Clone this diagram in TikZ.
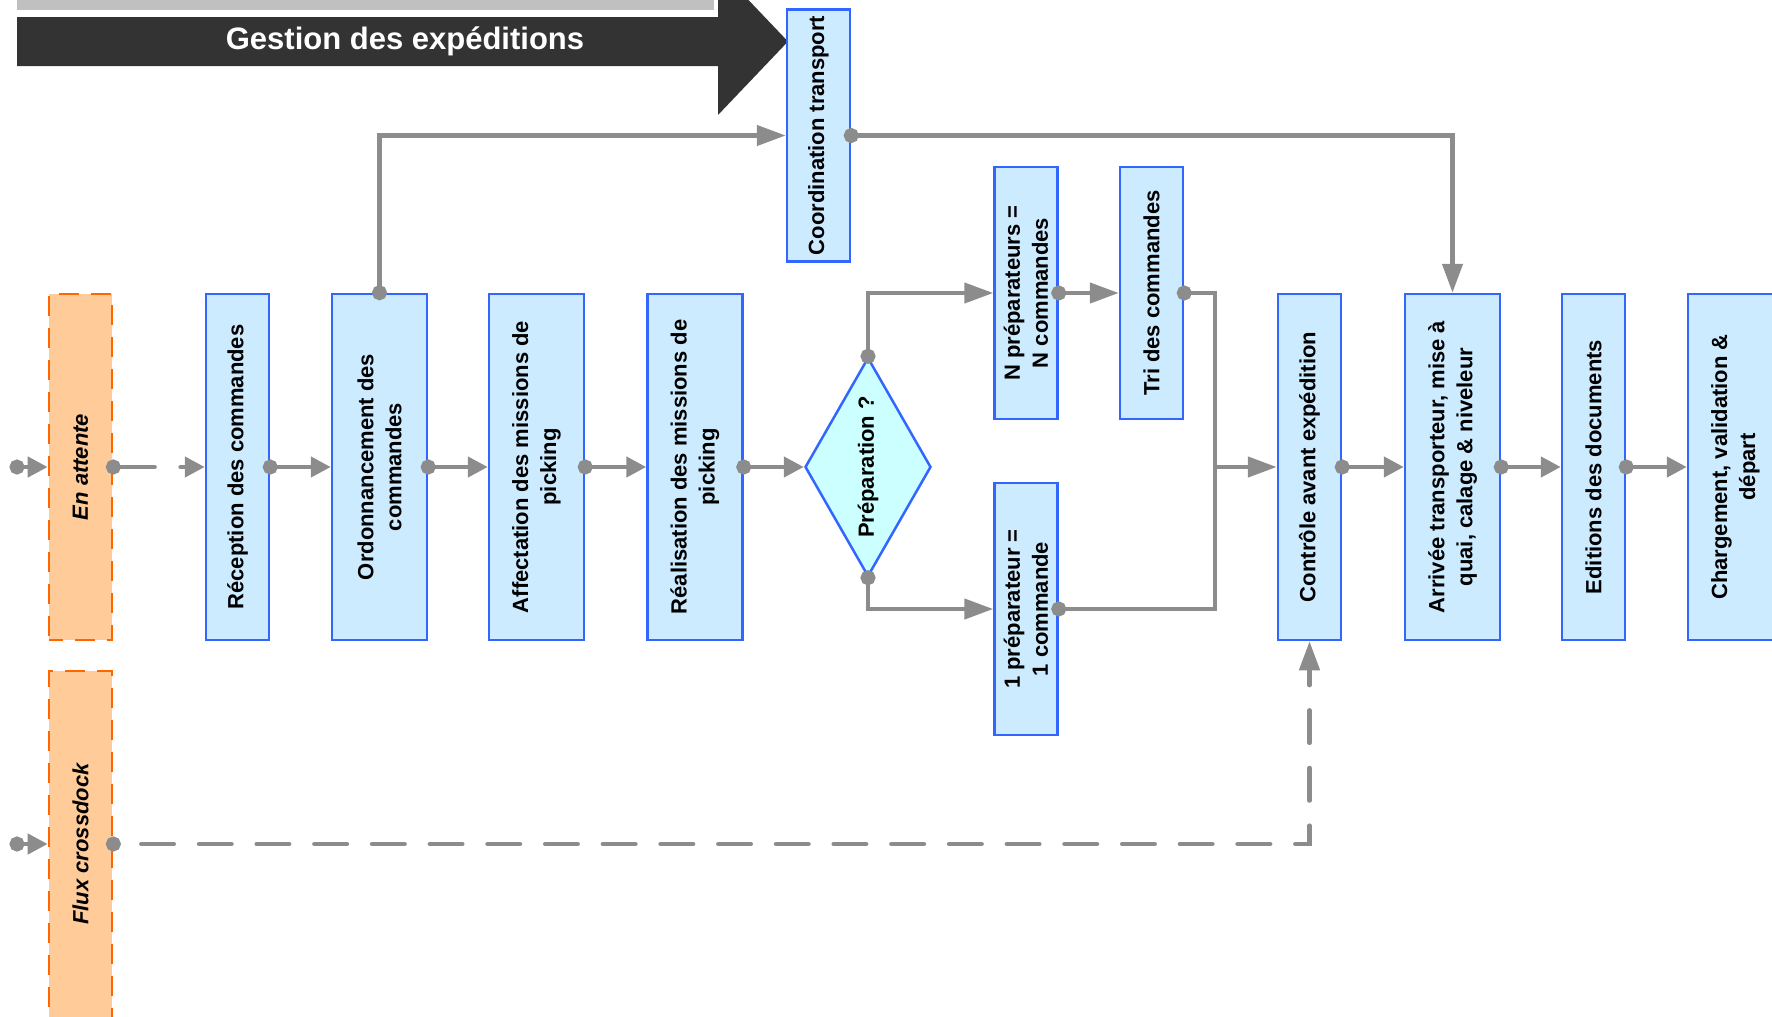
\documentclass[tikz,border=0pt]{standalone}
\usepackage{fontspec}
\setmainfont{Liberation Sans}
\usetikzlibrary{shapes.geometric,arrows.meta}

\definecolor{boxfill}{HTML}{CCEBFF}
\definecolor{boxline}{HTML}{3366FF}
\definecolor{decfill}{HTML}{CCFFFF}
\definecolor{waitfill}{HTML}{FFCC99}
\definecolor{waitline}{HTML}{FF6600}
\definecolor{flow}{HTML}{8C8C8C}
\definecolor{banner}{HTML}{333333}
\definecolor{bar}{HTML}{C0C0C0}

\tikzset{
  stepbox/.style={rectangle, draw=boxline, fill=boxfill, line width=2.5pt,
    inner sep=0pt, minimum height=346pt},
  narrow/.style={stepbox, minimum width=63pt},
  wide/.style={stepbox, minimum width=95pt},
  shortbox/.style={stepbox, minimum width=63pt, minimum height=252pt},
  waitbox/.style={rectangle, draw=waitline, fill=waitfill, line width=2.7pt,
    dash pattern=on 20pt off 12pt, dash phase=6pt, inner sep=0pt,
    minimum width=63pt, minimum height=346pt},
  decision/.style={diamond, draw=boxline, fill=decfill, line width=2.5pt,
    inner sep=0pt, minimum width=126pt, minimum height=219pt},
  lbl/.style={rotate=90, align=center, inner sep=0pt,
    font=\fontsize{22}{28}\selectfont\bfseries},
  wlbl/.style={lbl, font=\fontsize{22}{28}\selectfont\bfseries\itshape},
  conn/.style={draw=flow, line width=4.5pt},
  flowline/.style={conn, shorten <=-7.5pt,
    {Circle[length=15pt]}-{Triangle[length=20pt,width=20pt]}},
  longflow/.style={conn, shorten <=-7.5pt,
    {Circle[length=15pt]}-{Triangle[length=29pt,width=20pt]}},
  flowstub/.style={conn, shorten <=-7.5pt, {Circle[length=15pt]}-},
  flowhead/.style={conn, -{Triangle[length=29pt,width=20pt]}},
  dashedflow/.style={flowline, line cap=round, dash pattern=on 36pt off 26pt},
  crossflow/.style={longflow, line cap=round, dash pattern=on 32.5pt off 25.2pt, dash phase=35pt},
}

\begin{document}
\begin{tikzpicture}[x=1pt, y=-1pt]
\useasboundingbox (0,0) rectangle (1772,1017);

% banner
\fill[bar] (17,0) rectangle (714,10);
\fill[banner] (17,17) -- (718,17) -- (718,-32) -- (788,41.5) -- (718,115)
  -- (718,66) -- (17,66) -- cycle;
\node[text=white, font=\fontsize{31}{36}\selectfont\bfseries] (title) at (405,41.5)
  {Gestion des expéditions};

% waiting states
\node[waitbox] (att) at (80.5,467) {};
\node[wlbl] (attt) at (att.center) {En attente};
\node[waitbox, minimum height=352pt] (flx) at (80.5,847) {};
\node[wlbl] (flxt) at (80.5,844) {Flux crossdock};

% process steps
\node[narrow] (rec) at (237.5,467) {};
\node[lbl] (rect) at (rec.center) {Réception des commandes};
\node[wide] (ord) at (379.5,467) {};
\node[lbl] (ordt) at (ord.center) {Ordonnancement des\\commandes};
\node[wide] (aff) at (536.5,467) {};
\node[lbl] (afft) at (aff.center) {Affectation des missions de\\picking};
\node[wide] (rea) at (695,467) {};
\node[lbl] (reat) at (rea.center) {Réalisation des missions de\\picking};

\node[decision] (prep) at (868,467) {};
\node[lbl] (prept) at (prep.center) {Préparation ?};

\node[shortbox] (npr) at (1026,293) {};
\node[lbl] (nprt) at (npr.center) {N préparateurs =\\N commandes};
\node[shortbox] (tri) at (1151.5,293) {};
\node[lbl] (trit) at (tri.center) {Tri des commandes};
\node[shortbox] (upr) at (1026,609) {};
\node[lbl] (uprt) at (upr.center) {1 préparateur =\\1 commande};

\node[narrow] (ctl) at (1309.5,467) {};
\node[lbl] (ctlt) at (ctl.center) {Contrôle avant expédition};
\node[wide] (arr) at (1452.5,467) {};
\node[lbl] (arrt) at (arr.center) {Arrivée transporteur, mise à\\quai, calage \& niveleur};
\node[narrow] (edi) at (1593.5,467) {};
\node[lbl] (edit) at (edi.center) {Editions des documents};
\node[wide] (chg) at (1735.5,467) {};
\node[lbl] (chgt) at (chg.center) {Chargement, validation \&\\départ};

\node[shortbox] (coord) at (818.5,135.5) {};
\node[lbl] (coordt) at (coord.center) {Coordination transport};

% entries
\coordinate (in1) at (17,467);
\coordinate (in2) at (17,844);
\coordinate (join) at (1215,467);

% connectors
\draw[flowline] (in1) -- (att.west);
\draw[flowline] (in2) -- (flx.west |- in2);
\draw[dashedflow] (att.east) -- (rec.west);
\draw[flowline] (rec.east) -- (ord.west);
\draw[flowline] (ord.east) -- (aff.west);
\draw[flowline] (aff.east) -- (rea.west);
\draw[flowline] (rea.east) -- (prep.west);
\draw[longflow] (prep.north) |- (npr.west);
\draw[longflow] (prep.south) |- (upr.west);
\draw[longflow] (npr.east) -- (tri.west);
\draw[flowstub] (tri.east) -| (join);
\draw[flowstub] (upr.east) -| (join);
\draw[flowhead] (join) -- (ctl.west);
\draw[flowline] (ctl.east) -- (arr.west);
\draw[flowline] (arr.east) -- (edi.west);
\draw[flowline] (edi.east) -- (chg.west);
\draw[longflow] (ord.north) |- (coord.west);
\draw[longflow] (coord.east) -| (arr.north);
\draw[crossflow] (flx.east |- in2) -| (ctl.south);
\end{tikzpicture}
\end{document}
